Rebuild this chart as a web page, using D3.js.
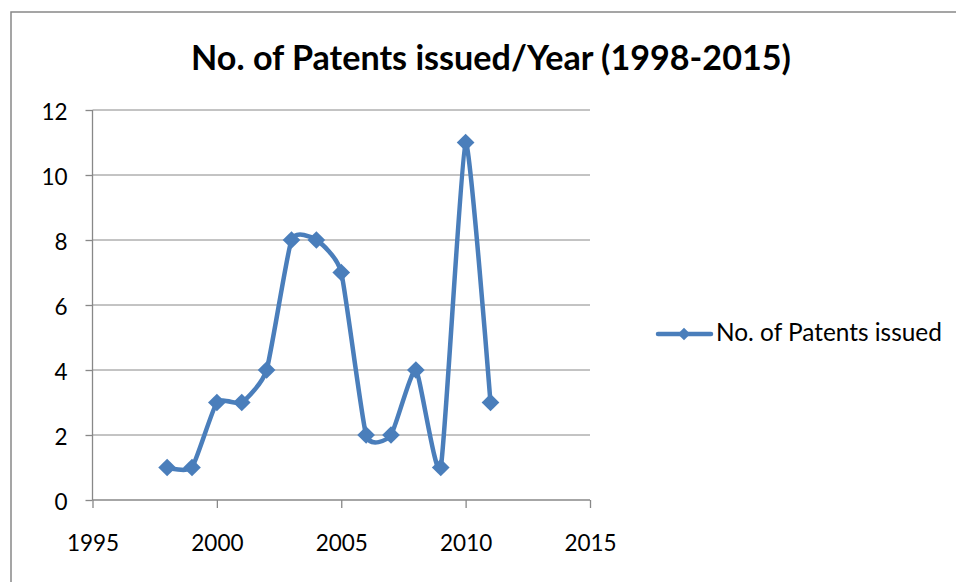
<!DOCTYPE html>
<html><head><meta charset="utf-8">
<script src="https://cdn.jsdelivr.net/npm/d3@7"></script>
<style>body{margin:0;background:#fff}svg{display:block}text{font-family:Lato,"Open Sans",sans-serif}</style>
</head><body><svg id="c" width="956" height="582"></svg>
<script>
const years = [1998,1999,2000,2001,2002,2003,2004,2005,2006,2007,2008,2009,2010,2011];
const patents = [1,1,3,3,4,8,8,7,2,2,4,1,11,3];
const xTicks = [1995,2000,2005,2010,2015];
const yTicks = [0,2,4,6,8,10,12];
const title = "No. of Patents issued/Year (1998-2015)";
const seriesName = "No. of Patents issued";

const svg = d3.select("#c");
const blue = "#4a7ebb";
const grid = "#888888";
svg.append("rect").attr("x",11).attr("y",12).attr("width",960).attr("height",600)
  .attr("fill","#fff").attr("stroke","#888").attr("stroke-width",1.5);

const x = d3.scaleLinear().domain([1995,2015]).range([92.5,590]);
const y = d3.scaleLinear().domain([0,12]).range([500,110]);

svg.append("g").selectAll("line").data(yTicks.filter(d=>d>0)).join("line")
  .attr("x1",x(1995)).attr("x2",x(2015)).attr("y1",d=>y(d)).attr("y2",d=>y(d))
  .attr("stroke",grid).attr("stroke-width",1);

const yAxis = svg.append("g").attr("transform",`translate(${x(1995)},0)`)
  .call(d3.axisLeft(y).tickValues(yTicks).tickSize(7).tickPadding(18));
const xAxis = svg.append("g").attr("transform",`translate(0,${y(0)})`)
  .call(d3.axisBottom(x).tickValues(xTicks).tickFormat(d3.format("d")).tickSize(8).tickPadding(27));
[yAxis,xAxis].forEach(a=>{
  a.attr("font-size",22.5).attr("font-family","Lato,'Open Sans',sans-serif");
  a.selectAll("path,line").attr("stroke",grid).attr("stroke-width",1.3);
  a.selectAll("text").attr("fill","#000");
});
yAxis.selectAll("text").attr("dy","0.4em");
xAxis.select("path").attr("d",`M${x(1995)},0H${x(2015)}`);
yAxis.select("path").attr("d",`M0,${y(0)}V${y(12)}`);

const line = d3.line().x((d,i)=>x(years[i])).y(d=>y(d)).curve(d3.curveCardinal.tension(0.5));
svg.append("path").datum(patents).attr("d",line).attr("fill","none")
  .attr("stroke",blue).attr("stroke-width",4.5).attr("stroke-linejoin","round");

const diamond = d3.symbol().type(d3.symbolDiamond2).size(200);
svg.append("g").selectAll("path").data(patents).join("path")
  .attr("d",diamond).attr("transform",(d,i)=>`translate(${x(years[i])},${y(d)})`)
  .attr("fill",blue);

const t = svg.append("text").attr("x",491).attr("y",70).attr("text-anchor","middle")
  .attr("font-weight","bold").attr("font-size",29).attr("fill","#000").text(title);
const tw = t.node().getComputedTextLength();
t.attr("font-size",29*600/tw);

svg.append("line").attr("x1",658).attr("x2",711).attr("y1",334).attr("y2",334)
  .attr("stroke",blue).attr("stroke-width",4.5).attr("stroke-linecap","round");
svg.append("path").attr("d",d3.symbol().type(d3.symbolDiamond2).size(100)).attr("transform","translate(684,334)").attr("fill",blue);
const lt = svg.append("text").attr("x",716).attr("y",341).attr("font-size",20).attr("fill","#000").text(seriesName);
const lw = lt.node().getComputedTextLength();
lt.attr("font-size",20*226/lw);
</script></body></html>
